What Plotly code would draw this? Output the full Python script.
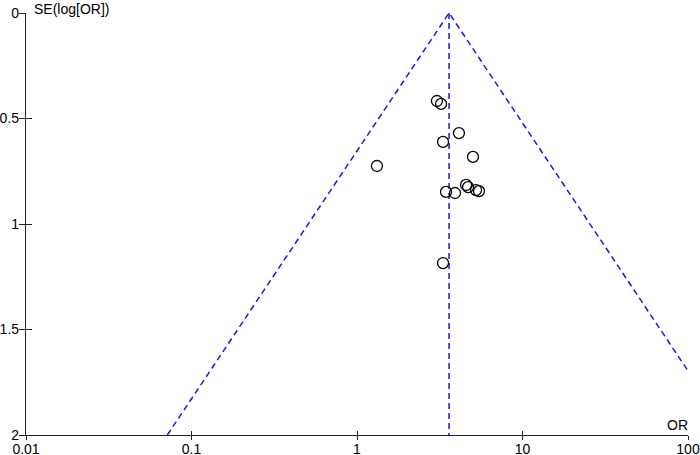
import numpy as np
import plotly.graph_objects as go

# Study data (odds ratio, standard error of log OR)
odds_ratio = [3.04, 3.22, 4.13, 3.31, 5.02, 1.32, 4.56, 4.69, 5.24, 5.46, 3.45, 3.91, 3.31]
se_log_or = [0.417, 0.431, 0.569, 0.611, 0.682, 0.725, 0.815, 0.825, 0.839, 0.844, 0.848, 0.853, 1.185]
pooled_or = 3.60
se_max = 2.0

x_tick_vals = [0.01, 0.1, 1, 10, 100]
x_tick_text = ["0.01", "0.1", "1", "10", "100"]
y_tick_vals = [0, 0.5, 1, 1.5, 2]
y_tick_text = ["0", "0.5", "1", "1.5", "2"]

lp = np.log(pooled_or)
funnel_x = [np.exp(lp - 1.96 * se_max), pooled_or, np.exp(lp + 1.96 * se_max)]
funnel_y = [se_max, 0, se_max]

blue = "#1a1adc"
font = dict(family="Liberation Sans, Arial, sans-serif", size=14, color="#000")

fig = go.Figure()
fig.add_trace(go.Scatter(x=funnel_x, y=funnel_y, mode="lines",
                         line=dict(color=blue, width=1.5, dash="6px,4px"),
                         hoverinfo="skip", showlegend=False))
fig.add_trace(go.Scatter(x=[pooled_or, pooled_or], y=[0, se_max], mode="lines",
                         line=dict(color=blue, width=1.5, dash="6px,4px"),
                         hoverinfo="skip", showlegend=False))
fig.add_trace(go.Scatter(x=odds_ratio, y=se_log_or, mode="markers",
                         marker=dict(symbol="circle-open", size=11, color="#000",
                                     line=dict(width=1.3, color="#000")),
                         showlegend=False))
# invisible trace to activate the overlay axes (inside ticks)
fig.add_trace(go.Scatter(x=[1], y=[1], xaxis="x2", yaxis="y2", mode="markers",
                         marker=dict(opacity=0), hoverinfo="skip", showlegend=False))

axis_common = dict(showgrid=False, zeroline=False, showline=True, linecolor="#222",
                   linewidth=1.3, tickcolor="#222", tickwidth=1.3)

xr = [np.log10(0.01), np.log10(100)]
fig.update_layout(
    width=700, height=455,
    margin=dict(l=26, r=12, t=13, b=20),
    paper_bgcolor="white", plot_bgcolor="white",
    font=font,
    xaxis=dict(type="log", range=xr, tickvals=x_tick_vals, ticktext=x_tick_text,
               ticks="outside", ticklen=4, tickfont=font, automargin=False,
               ticklabelstandoff=-3, **axis_common),
    yaxis=dict(range=[se_max, 0], tickvals=y_tick_vals, ticktext=y_tick_text,
               ticks="outside", ticklen=6, tickfont=font, automargin=False,
               ticklabelstandoff=-3, **axis_common),
    xaxis2=dict(type="log", range=xr, tickvals=x_tick_vals, showticklabels=False,
                ticks="inside", ticklen=4, overlaying="x", anchor="y2", automargin=False,
                **axis_common),
    yaxis2=dict(range=[se_max, 0], tickvals=y_tick_vals, showticklabels=False,
                ticks="inside", ticklen=6, overlaying="y", anchor="x2", automargin=False,
                **axis_common),
    annotations=[
        dict(text="SE(log[OR])", xref="paper", yref="paper", x=0, y=1,
             xanchor="left", yanchor="middle", xshift=6, yshift=4, showarrow=False, font=font),
        dict(text="OR", xref="paper", yref="paper", x=1, y=0,
             xanchor="right", yanchor="bottom", xshift=2, yshift=0, showarrow=False, font=font),
    ],
)

fig.write_html("out.html", config={"displayModeBar": False},
               post_script="document.body.style.margin='0';document.body.style.overflow='hidden';")
